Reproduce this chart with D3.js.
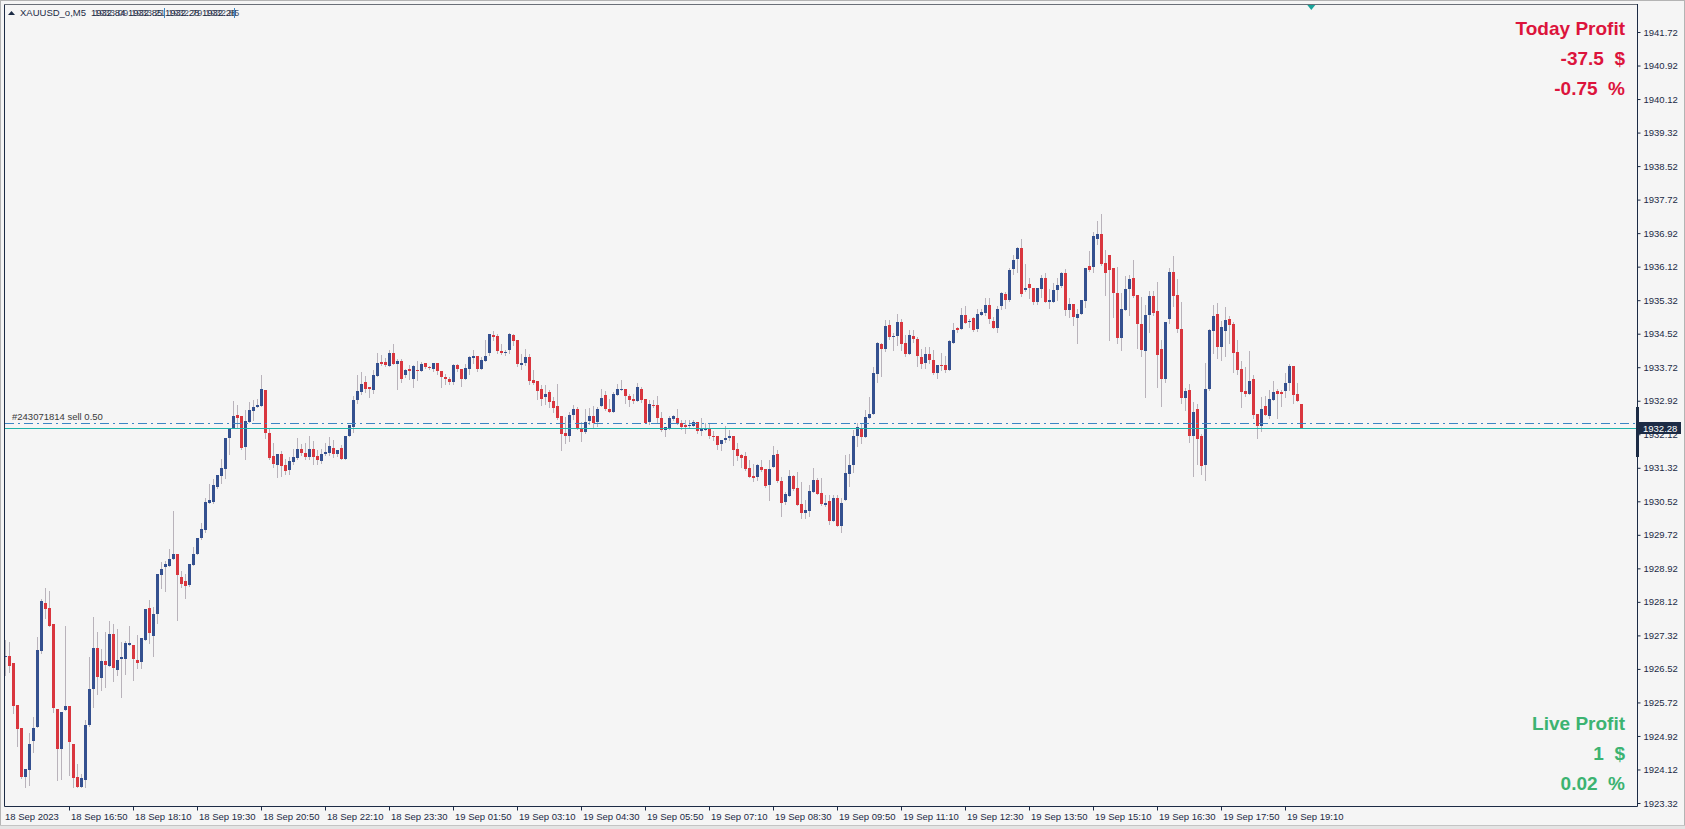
<!DOCTYPE html>
<html><head><meta charset="utf-8">
<script src="https://cdn.jsdelivr.net/npm/d3@7"></script>
<style>html,body{margin:0;padding:0;background:#f5f5f5;overflow:hidden}svg{display:block}text{white-space:pre}</style>
</head><body><svg id="c" width="1685" height="829"></svg>
<script>
// ---- data (XAUUSD_o, M5, 18 Sep 2023 15:30 -> 19 Sep 2023 19:30) ----
const symbolTitle = "XAUUSD_o,M5";
const timeLabels = ["18 Sep 2023","18 Sep 16:50","18 Sep 18:10","18 Sep 19:30","18 Sep 20:50","18 Sep 22:10","18 Sep 23:30","19 Sep 01:50","19 Sep 03:10","19 Sep 04:30","19 Sep 05:50","19 Sep 07:10","19 Sep 08:30","19 Sep 09:50","19 Sep 11:10","19 Sep 12:30","19 Sep 13:50","19 Sep 15:10","19 Sep 16:30","19 Sep 17:50","19 Sep 19:10"];
const priceTicks = ["1941.72","1940.92","1940.12","1939.32","1938.52","1937.72","1936.92","1936.12","1935.32","1934.52","1933.72","1932.92","1932.12","1931.32","1930.52","1929.72","1928.92","1928.12","1927.32","1926.52","1925.72","1924.92","1924.12","1923.32"];
const open = [1926.84,1926.84,1926.65,1925.65,1925.12,1923.94,1924.10,1924.81,1925.13,1926.94,1928.10,1927.98,1927.58,1925.57,1924.61,1925.53,1925.63,1924.73,1923.94,1923.70,
1923.87,1925.17,1926.05,1927.01,1926.30,1926.72,1926.59,1927.35,1926.50,1926.76,1926.76,1927.08,1927.08,1926.74,1926.68,1927.22,1927.97,1927.30,1927.82,1928.76,
1928.95,1928.98,1929.14,1929.27,1928.72,1928.62,1928.52,1928.99,1929.26,1929.65,1929.83,1930.48,1930.51,1930.86,1931.13,1931.29,1932.02,1932.26,1932.58,1932.55,
1931.82,1932.42,1932.68,1932.76,1932.80,1933.17,1932.15,1931.60,1931.38,1931.66,1931.38,1931.26,1931.46,1931.56,1931.76,1931.68,1931.58,1931.76,1931.60,1931.49,
1931.64,1931.68,1931.80,1931.64,1931.79,1931.52,1932.07,1932.29,1932.93,1933.13,1933.36,1933.24,1933.17,1933.51,1933.84,1933.84,1933.75,1934.05,1933.79,1933.86,
1933.53,1933.67,1933.43,1933.65,1933.63,1933.82,1933.72,1933.67,1933.81,1933.62,1933.48,1933.43,1933.36,1933.77,1933.67,1933.43,1933.67,1933.94,1933.98,1933.67,
1933.86,1934.06,1934.49,1934.46,1934.10,1934.06,1934.14,1934.48,1934.36,1933.77,1933.81,1933.96,1933.41,1933.38,1933.19,1933.01,1933.12,1932.91,1932.79,1932.55,
1932.16,1932.09,1932.57,1932.72,1932.25,1932.17,1932.43,1932.55,1932.41,1932.79,1933.05,1932.72,1932.65,1933.05,1933.18,1933.19,1933.03,1932.96,1932.91,1933.21,
1932.95,1932.41,1932.83,1932.83,1932.52,1932.23,1932.25,1932.48,1932.52,1932.40,1932.33,1932.32,1932.32,1932.41,1932.20,1932.23,1932.25,1932.09,1932.09,1931.88,
1931.98,1932.02,1932.09,1931.78,1931.62,1931.59,1931.31,1931.12,1931.09,1931.35,1931.28,1930.90,1931.33,1931.64,1931.00,1930.50,1930.64,1931.12,1930.83,1930.46,
1930.24,1930.30,1930.74,1931.02,1930.72,1930.42,1930.53,1930.06,1930.60,1929.94,1930.54,1931.16,1931.38,1932.07,1932.25,1932.05,1932.52,1932.60,1933.55,1934.27,
1934.15,1934.72,1934.44,1934.46,1934.79,1934.29,1934.03,1934.46,1934.39,1933.97,1933.82,1934.03,1933.89,1933.58,1933.77,1933.77,1933.65,1934.30,1934.65,1934.64,
1934.96,1934.79,1934.89,1934.63,1934.96,1935.02,1935.20,1934.83,1934.66,1935.18,1935.46,1935.32,1936.06,1936.30,1936.56,1935.56,1935.70,1935.62,1935.27,1935.59,
1935.84,1935.27,1935.27,1935.56,1935.66,1935.98,1935.08,1935.23,1934.90,1934.99,1935.31,1936.13,1936.12,1936.78,1936.90,1936.20,1936.40,1936.08,1935.50,1934.41,
1935.08,1935.58,1935.84,1935.44,1934.76,1934.11,1934.96,1935.42,1935.06,1934.15,1933.43,1934.87,1935.99,1935.44,1934.63,1932.99,1933.17,1932.07,1932.72,1932.07,
1931.38,1933.20,1934.59,1934.99,1934.21,1934.59,1934.87,1934.75,1934.08,1933.67,1933.16,1933.08,1933.43,1932.60,1932.31,1932.79,1932.55,1932.93,1933.15,1933.12,
1933.15,1933.34,1933.74,1933.08,1932.84];
const high = [1927.22,1927.16,1926.65,1925.65,1925.12,1924.14,1924.99,1925.37,1927.28,1928.18,1928.46,1928.37,1927.58,1925.57,1925.49,1927.54,1925.63,1924.73,1924.24,1924.01,
1925.31,1926.80,1927.75,1927.40,1927.00,1927.40,1927.66,1927.58,1927.48,1927.16,1927.18,1927.54,1927.08,1927.32,1927.25,1927.95,1928.16,1928.00,1928.78,1929.07,
1929.10,1929.38,1930.29,1929.27,1928.86,1928.79,1929.02,1929.42,1929.65,1930.00,1930.59,1930.94,1931.06,1931.14,1931.52,1932.04,1932.26,1932.92,1932.83,1932.55,
1932.71,1932.89,1932.93,1932.95,1933.53,1933.17,1932.26,1931.92,1931.66,1931.72,1931.54,1931.58,1931.78,1932.02,1931.88,1931.90,1932.07,1931.96,1931.74,1931.78,
1931.92,1932.06,1931.98,1931.75,1931.86,1932.09,1932.33,1933.03,1933.53,1933.60,1933.50,1933.24,1933.66,1934.05,1934.01,1933.93,1934.14,1934.27,1933.92,1933.92,
1933.67,1933.77,1933.78,1933.86,1933.84,1933.82,1933.74,1933.81,1933.81,1933.62,1933.55,1933.49,1933.79,1933.79,1933.67,1933.79,1933.98,1934.12,1933.98,1933.97,
1934.38,1934.51,1934.58,1934.52,1934.27,1934.14,1934.54,1934.51,1934.38,1934.03,1934.15,1934.03,1933.65,1933.38,1933.29,1933.29,1933.17,1933.00,1933.33,1932.55,
1932.53,1932.64,1932.83,1932.76,1932.41,1932.73,1932.75,1932.79,1932.77,1933.21,1933.15,1932.95,1933.13,1933.33,1933.41,1933.19,1933.09,1933.07,1933.34,1933.25,
1932.95,1932.93,1932.93,1933.03,1932.65,1932.29,1932.55,1932.57,1932.72,1932.47,1932.47,1932.45,1932.45,1932.41,1932.52,1932.40,1932.40,1932.20,1932.09,1931.98,
1932.31,1932.21,1932.09,1931.90,1931.66,1931.69,1931.50,1931.42,1931.40,1931.51,1931.28,1931.50,1931.83,1931.74,1931.10,1930.74,1931.27,1931.14,1931.21,1930.98,
1930.54,1930.92,1931.32,1931.08,1931.08,1930.68,1930.66,1930.66,1930.66,1930.60,1931.62,1931.66,1932.23,1932.39,1932.36,1932.69,1933.01,1933.73,1934.32,1934.30,
1934.84,1934.84,1934.54,1935.00,1934.88,1934.48,1934.60,1934.60,1934.44,1934.16,1934.20,1934.20,1934.13,1933.77,1934.05,1933.98,1934.38,1934.78,1934.67,1935.14,
1935.18,1934.86,1934.91,1935.10,1935.10,1935.38,1935.36,1934.91,1935.18,1935.52,1935.51,1936.08,1936.40,1936.60,1936.79,1936.18,1935.84,1935.62,1935.61,1935.92,
1935.96,1935.58,1935.74,1935.84,1936.00,1936.06,1935.36,1935.23,1935.10,1935.32,1936.08,1936.49,1936.95,1937.21,1937.38,1936.52,1936.40,1936.08,1936.12,1935.48,
1935.89,1935.92,1936.28,1935.44,1935.40,1935.20,1935.54,1935.54,1935.76,1934.37,1934.80,1936.08,1936.37,1935.82,1935.28,1933.22,1933.31,1932.89,1932.85,1932.13,
1933.82,1934.64,1935.20,1935.26,1934.83,1935.16,1934.94,1934.80,1934.38,1933.86,1933.73,1934.10,1933.53,1932.60,1933.01,1933.03,1933.17,1933.39,1933.19,1933.17,
1933.59,1933.79,1933.74,1933.35,1932.84];
const low = [1926.37,1926.45,1925.47,1924.69,1923.92,1923.70,1923.76,1924.53,1925.13,1926.90,1927.74,1927.54,1925.49,1923.87,1923.90,1925.53,1923.98,1923.71,1923.70,1923.70,
1923.70,1925.15,1925.61,1925.93,1926.01,1926.09,1926.59,1926.23,1926.37,1925.85,1926.41,1927.08,1926.25,1926.53,1926.53,1927.22,1927.14,1926.82,1927.62,1928.44,
1928.37,1928.98,1929.14,1927.68,1928.47,1928.22,1928.50,1928.99,1929.26,1929.62,1929.79,1930.48,1930.47,1930.84,1930.96,1931.08,1931.66,1932.26,1932.26,1931.76,
1931.52,1932.42,1932.46,1932.76,1932.80,1932.03,1931.54,1931.34,1931.09,1931.13,1931.16,1931.18,1931.42,1931.54,1931.62,1931.54,1931.52,1931.42,1931.42,1931.44,
1931.62,1931.62,1931.58,1931.60,1931.52,1931.52,1932.07,1932.17,1932.87,1933.07,1933.13,1933.01,1933.11,1933.51,1933.77,1933.75,1933.75,1933.79,1933.19,1933.37,
1933.49,1933.45,1933.25,1933.41,1933.63,1933.71,1933.67,1933.62,1933.57,1933.25,1933.33,1933.31,1933.33,1933.62,1933.26,1933.43,1933.57,1933.82,1933.62,1933.67,
1933.86,1934.01,1934.38,1934.06,1934.04,1934.02,1934.06,1934.24,1933.74,1933.67,1933.77,1933.31,1933.31,1932.97,1932.83,1932.85,1932.76,1932.65,1932.49,1931.74,
1931.91,1931.96,1932.48,1932.24,1931.95,1932.14,1932.37,1932.29,1932.32,1932.79,1932.69,1932.64,1932.65,1933.05,1933.17,1932.87,1932.80,1932.87,1932.91,1932.89,
1932.40,1932.37,1932.77,1932.41,1932.20,1932.07,1932.25,1932.46,1932.36,1932.25,1932.15,1932.29,1932.32,1932.14,1932.10,1932.21,1932.04,1931.98,1931.76,1931.74,
1931.94,1931.98,1931.38,1931.51,1931.34,1931.26,1931.09,1931.00,1931.04,1931.24,1930.86,1930.54,1931.33,1930.98,1930.18,1930.46,1930.64,1930.80,1930.44,1930.13,
1930.13,1930.16,1930.74,1930.69,1930.42,1930.40,1929.98,1930.06,1929.92,1929.79,1930.54,1930.88,1931.22,1931.83,1931.90,1932.05,1932.50,1932.60,1933.37,1933.51,
1934.11,1934.39,1934.12,1934.24,1934.12,1933.98,1934.03,1934.33,1933.75,1933.69,1933.70,1933.82,1933.55,1933.47,1933.65,1933.61,1933.65,1934.30,1934.56,1934.64,
1934.78,1934.68,1934.59,1934.59,1934.96,1934.96,1934.78,1934.66,1934.56,1935.10,1935.14,1935.30,1935.94,1936.00,1935.42,1935.54,1935.36,1935.22,1935.22,1935.40,
1935.27,1935.14,1935.27,1935.32,1935.63,1934.96,1934.91,1934.72,1934.29,1934.99,1935.15,1936.02,1936.00,1936.67,1936.16,1935.44,1934.37,1934.92,1934.30,1934.13,
1935.08,1934.96,1935.40,1934.18,1933.98,1933.01,1934.56,1934.96,1933.25,1932.80,1933.37,1934.78,1935.18,1934.57,1932.87,1932.69,1931.94,1931.12,1931.42,1931.18,
1931.02,1933.18,1934.06,1933.95,1933.90,1933.98,1934.29,1933.61,1933.57,1932.77,1933.03,1933.08,1932.50,1932.02,1932.20,1932.57,1932.50,1932.93,1932.50,1932.80,
1933.02,1933.17,1932.87,1932.91,1932.28];
const close = [1926.84,1926.59,1925.63,1925.09,1923.94,1924.14,1924.73,1925.12,1926.98,1928.13,1927.96,1927.54,1925.59,1924.61,1925.49,1925.63,1924.77,1923.92,1923.70,1923.91,
1925.17,1926.05,1927.01,1926.33,1926.72,1926.61,1927.36,1926.53,1926.74,1926.80,1927.15,1927.15,1926.76,1926.65,1927.25,1927.95,1927.38,1927.84,1928.78,1928.90,
1929.02,1929.15,1929.26,1928.76,1928.54,1928.50,1929.02,1929.27,1929.65,1929.85,1930.51,1930.55,1930.90,1931.14,1931.31,1932.03,1932.26,1932.55,1932.51,1931.80,
1932.43,1932.70,1932.78,1932.82,1933.20,1932.14,1931.56,1931.42,1931.66,1931.37,1931.24,1931.48,1931.57,1931.78,1931.68,1931.58,1931.78,1931.58,1931.50,1931.66,
1931.69,1931.84,1931.64,1931.75,1931.54,1932.09,1932.33,1932.93,1933.15,1933.31,1933.19,1933.19,1933.53,1933.81,1933.79,1933.77,1934.05,1933.79,1933.86,1933.43,
1933.65,1933.62,1933.74,1933.62,1933.79,1933.73,1933.69,1933.81,1933.63,1933.49,1933.43,1933.36,1933.77,1933.67,1933.43,1933.69,1933.96,1933.98,1933.67,1933.89,
1933.98,1934.51,1934.44,1934.10,1934.06,1934.08,1934.51,1934.35,1933.79,1933.82,1933.96,1933.38,1933.35,1933.15,1932.95,1933.07,1932.89,1932.75,1932.52,1932.12,
1932.09,1932.59,1932.72,1932.24,1932.17,1932.42,1932.56,1932.39,1932.73,1932.99,1932.72,1932.65,1933.07,1933.19,1933.19,1933.03,1932.93,1932.91,1933.24,1932.93,
1932.40,1932.85,1932.80,1932.51,1932.21,1932.29,1932.52,1932.55,1932.39,1932.29,1932.29,1932.33,1932.41,1932.20,1932.25,1932.25,1932.07,1932.05,1931.86,1931.98,
1932.02,1932.09,1931.74,1931.59,1931.55,1931.29,1931.09,1931.08,1931.38,1931.26,1930.88,1931.29,1931.62,1931.00,1930.48,1930.70,1931.12,1930.81,1930.44,1930.24,
1930.32,1930.76,1931.02,1930.69,1930.45,1930.48,1930.06,1930.60,1929.92,1930.48,1931.20,1931.38,1932.07,1932.29,1932.05,1932.53,1932.60,1933.58,1934.30,1934.15,
1934.70,1934.44,1934.46,1934.79,1934.27,1934.03,1934.48,1934.39,1933.99,1933.79,1934.03,1933.89,1933.58,1933.77,1933.74,1933.65,1934.34,1934.60,1934.62,1934.96,
1934.78,1934.82,1934.60,1935.00,1935.03,1935.20,1934.87,1934.66,1935.12,1935.48,1935.32,1936.04,1936.29,1936.56,1935.46,1935.62,1935.61,1935.27,1935.61,1935.84,
1935.27,1935.32,1935.56,1935.68,1935.98,1935.08,1935.24,1934.91,1935.00,1935.32,1936.08,1936.04,1936.85,1936.91,1936.18,1935.97,1936.04,1935.48,1934.41,1935.10,
1935.58,1935.82,1935.42,1934.75,1934.13,1934.96,1935.43,1935.02,1934.01,1933.43,1934.80,1935.99,1935.42,1934.63,1932.99,1933.16,1932.07,1932.65,1932.01,1931.36,
1933.20,1934.60,1934.94,1934.21,1934.68,1934.84,1934.72,1934.06,1933.65,1933.12,1933.08,1933.39,1932.57,1932.31,1932.73,1932.57,1932.96,1933.12,1933.08,1933.08,
1933.34,1933.74,1933.06,1932.91,1932.28];
const bidPrice = 1932.28;
const orderPrice = 1932.40;
const orderLabel = "#243071814 sell 0.50";
const todayProfit = ["Today Profit", "-37.5  $", "-0.75  %"];
const liveProfit = ["Live Profit", "1  $", "0.02  %"];
const headerValuesA = "1932.84 1932.85 1932.28 1932.28";
const headerValuesB = "1933.09 1933.21 1932.79 1932.85";

// ---- layout ----
const W = 1685, H = 829;
const plot = {l: 4, r: 1637, t: 4, b: 806};
const col = {bg: "#f5f5f5", axis: "#1c2b45", bull: "#34508f", bear: "#d9363e", wick: "#b9b3bb",
  bid: "#20b2aa", order: "#3c86c4", today: "#dc143c", live: "#3cb371"};
const font = "'Liberation Sans', Arial, sans-serif";

const svg = d3.select("#c");
svg.append("rect").attr("width", W).attr("height", H).attr("fill", col.bg);

const n = close.length;
const x = d3.scaleLinear().domain([0, n - 1]).range([5.3, 5.3 + 4 * (n - 1)]);
const y = d3.scaleLinear().domain([+priceTicks[priceTicks.length - 1], +priceTicks[0]]).range([803, 32]);

// window frame
svg.append("rect").attr("x", 0.5).attr("y", 0.5).attr("width", W - 1).attr("height", H - 1)
  .attr("fill", "none").attr("stroke", "#b4b4b4");
svg.append("rect").attr("x", 0).attr("y", 825).attr("width", W).attr("height", 4).attr("fill", "#e4e4e4");
svg.append("line").attr("x1", 0).attr("x2", W).attr("y1", 825.5).attr("y2", 825.5).attr("stroke", "#c4c4c4");

const g = svg.append("g");
const clip = svg.append("clipPath").attr("id", "pc").append("rect")
  .attr("x", plot.l + 1).attr("y", plot.t + 1).attr("width", plot.r - plot.l - 1).attr("height", plot.b - plot.t - 1);

// candles
const cg = g.append("g").attr("clip-path", "url(#pc)");
const idx = d3.range(n);
const cx = i => Math.round(x(i));
cg.selectAll("rect.wick").data(idx).join("rect").attr("class", "wick")
  .attr("x", i => cx(i)).attr("width", 1)
  .attr("y", i => Math.round(y(high[i])))
  .attr("height", i => Math.max(1, Math.round(y(low[i])) - Math.round(y(high[i])) + 1))
  .attr("fill", col.wick);
cg.selectAll("rect.body").data(idx).join("rect").attr("class", "body")
  .attr("x", i => cx(i) - 1).attr("width", 3)
  .attr("y", i => Math.round(y(Math.max(open[i], close[i]))))
  .attr("height", i => Math.max(1, Math.round(y(Math.min(open[i], close[i]))) - Math.round(y(Math.max(open[i], close[i])))))
  .attr("fill", i => close[i] >= open[i] ? col.bull : col.bear);

// order line (dash-dot) and bid line
g.append("line").attr("x1", plot.l + 1).attr("x2", plot.r).attr("y1", Math.round(y(orderPrice)) + 0.5).attr("y2", Math.round(y(orderPrice)) + 0.5)
  .attr("stroke", col.order).attr("stroke-width", 1).attr("stroke-dasharray", "9,4,2,4");
g.append("line").attr("x1", plot.l + 1).attr("x2", plot.r).attr("y1", Math.round(y(bidPrice)) + 0.5).attr("y2", Math.round(y(bidPrice)) + 0.5)
  .attr("stroke", col.bid).attr("stroke-width", 1);
g.append("text").attr("x", 12).attr("y", Math.round(y(orderPrice)) - 3).attr("font-family", font).attr("font-size", 9.5)
  .attr("fill", "#3a3a3a").text(orderLabel);

// frame of plot
g.append("path").attr("d", `M${plot.l + 0.5},${plot.t}V${plot.b + 0.5}H${plot.r + 0.5}V${plot.t}`)
  .attr("fill", "none").attr("stroke", col.axis);
g.append("line").attr("x1", plot.l).attr("x2", plot.r).attr("y1", plot.t + 0.5).attr("y2", plot.t + 0.5).attr("stroke", "#6a6f78");

// y axis
const yAxis = d3.axisRight(y).tickValues(priceTicks.map(Number)).tickFormat(d3.format(".2f")).tickSize(3).tickPadding(3);
const ya = g.append("g").attr("transform", `translate(${plot.r + 0.5},0)`).call(yAxis);
ya.select(".domain").remove();
ya.selectAll("line").attr("stroke", col.axis);
ya.selectAll("text").attr("font-family", font).attr("font-size", 9.5).attr("fill", col.axis);

// x axis
const tickIdx = timeLabels.map((d, k) => k * 16);
const xa = g.append("g").attr("transform", `translate(0,${plot.b + 0.5})`);
xa.selectAll("line").data(tickIdx.slice(1)).join("line")
  .attr("x1", i => cx(i) + 0.5).attr("x2", i => cx(i) + 0.5).attr("y1", 0).attr("y2", 4).attr("stroke", col.axis);
xa.selectAll("text").data(tickIdx).join("text")
  .attr("x", (i, k) => k === 0 ? 5 : cx(i) + 2).attr("y", 13)
  .attr("font-family", font).attr("font-size", 9.5).attr("fill", col.axis)
  .text((i, k) => timeLabels[k]);

// current price marker
const by = Math.round(y(bidPrice));
g.append("rect").attr("x", plot.r - 1).attr("y", 407).attr("width", 3).attr("height", 50).attr("fill", col.axis);
g.append("rect").attr("x", plot.r).attr("y", by - 6).attr("width", 44).attr("height", 12).attr("fill", col.axis);
g.append("text").attr("x", plot.r + 6).attr("y", by + 3.5).attr("font-family", font).attr("font-size", 9.5)
  .attr("fill", "#ffffff").text(d3.format(".2f")(bidPrice));

// chart shift marker
g.append("path").attr("d", `M${x(n - 1) + 6},5 L${x(n - 1) + 14},5 L${x(n - 1) + 10},10 Z`).attr("fill", "#1aa39a");

// header
g.append("path").attr("d", "M8,15 L15,15 L11.5,11 Z").attr("fill", "#1c2b45");
g.append("text").attr("x", 20).attr("y", 16).attr("font-family", font).attr("font-size", 9.5).attr("fill", "#1c2b45").text(symbolTitle);
g.append("text").attr("x", 91).attr("y", 16).attr("font-family", font).attr("font-size", 9.5).attr("fill", "#1c2b45").text(headerValuesA);
g.append("text").attr("x", 94).attr("y", 16).attr("font-family", font).attr("font-size", 9.5).attr("fill", "#1c2b45").attr("opacity", 0.8).text(headerValuesB);
g.append("rect").attr("x", 164).attr("y", 8).attr("width", 1).attr("height", 10).attr("fill", "#3c86c4");
g.append("rect").attr("x", 234).attr("y", 8).attr("width", 1).attr("height", 10).attr("fill", "#3c86c4");

// profit panels
const tp = [35, 65, 94.5];
todayProfit.forEach((t, k) => g.append("text").attr("x", 1625).attr("y", tp[k]).attr("text-anchor", "end")
  .attr("font-family", font).attr("font-weight", "bold").attr("font-size", 19).attr("fill", col.today).text(t));
const lp = [730, 760, 789.5];
liveProfit.forEach((t, k) => g.append("text").attr("x", 1625).attr("y", lp[k]).attr("text-anchor", "end")
  .attr("font-family", font).attr("font-weight", "bold").attr("font-size", 19).attr("fill", col.live).text(t));
</script></body></html>
